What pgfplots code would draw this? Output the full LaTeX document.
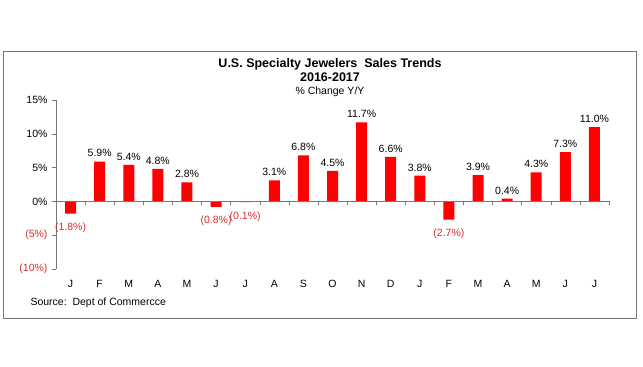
\documentclass[border=0pt]{standalone}
\usepackage{fontspec}
\setmainfont{Liberation Sans}
\usepackage{pgfplots}
\pgfplotsset{compat=1.18}
\definecolor{barred}{RGB}{255,0,0}
\definecolor{labred}{RGB}{215,45,45}
\definecolor{framegray}{RGB}{120,120,120}
\pgfplotstableread{
x y
1 5.9
2 5.4
3 4.8
4 2.8
7 3.1
8 6.8
9 4.5
10 11.7
11 6.6
12 3.8
14 3.9
15 0.4
16 4.3
17 7.3
18 11.0
}\postable
\pgfplotstableread{
x y m
0 -1.8 1.8
5 -0.8 0.8
6 -0.1 0.1
13 -2.7 2.7
}\negtable
\begin{document}
\begin{tikzpicture}[x=1pt,y=1pt]
\path[use as bounding box, fill=white] (0,0) rectangle (643,367);
\draw[color=framegray, line width=1pt] (3.5,48) rectangle (636,315);
\node[font=\bfseries\fontsize{12.5}{14}\selectfont] at (330,303) {U.S. Specialty Jewelers\ \ Sales Trends};
\node[font=\bfseries\fontsize{12.5}{14}\selectfont] at (330,290) {2016-2017};
\node[font=\fontsize{10.5}{12}\selectfont] at (330,275) {\% Change Y/Y};
\node[anchor=west, font=\fontsize{10.5}{12}\selectfont] at (27,64) {Source:\ \ Dept of Commercce};
\begin{axis}[
  at={(56pt,98pt)}, anchor=south west,
  scale only axis, width=553pt, height=169pt,
  xmin=-0.5, xmax=18.5, ymin=-10, ymax=15,
  enlargelimits=false, clip=false,
  axis y line=left, axis x line=bottom,
  x axis line style={draw=none},
  y axis line style={-, framegray},
  ytick={-10,-5,0,5,10,15},
  yticklabels={\textcolor{labred}{(10\%)},\textcolor{labred}{(5\%)},0\%,5\%,10\%,15\%},
  xtick={0,...,18},
  xticklabels={J,F,M,A,M,J,J,A,S,O,N,D,J,F,M,A,M,J,J},
  major x tick style={draw=none},
  ytick style={framegray},
  tick align=outside, major tick length=4pt,
  ticklabel style={font=\fontsize{10.5}{12}\selectfont},
  xticklabel style={yshift=-4pt},
  yticklabel style={xshift=-1pt},
  ybar, bar width=11pt,
]
\addplot[fill=barred, draw=none, bar shift=0pt, point meta=explicit,
  nodes near coords={\pgfmathprintnumber[fixed,fixed zerofill,precision=1,assume math mode=true]{\pgfplotspointmeta}\%},
  nodes near coords style={font=\fontsize{10.5}{12}\selectfont, text=black, anchor=south, yshift=1pt}]
  table[x=x,y=y,meta=y] {\postable};
\addplot[fill=barred, draw=none, bar shift=0pt, point meta=explicit,
  nodes near coords={(\pgfmathprintnumber[fixed,fixed zerofill,precision=1,assume math mode=true]{\pgfplotspointmeta}\%)},
  nodes near coords style={font=\fontsize{10.5}{12}\selectfont, text=labred, anchor=north, yshift=-6pt}]
  table[x=x,y=y,meta=m] {\negtable};
\draw[framegray] (axis cs:-0.5,0) -- (axis cs:18.5,0);
\pgfplotsinvokeforeach{-0.5,0.5,...,18.5}{\draw[framegray] (axis cs:#1,0) -- ([yshift=-4pt]axis cs:#1,0);}
\end{axis}
\end{tikzpicture}
\end{document}
